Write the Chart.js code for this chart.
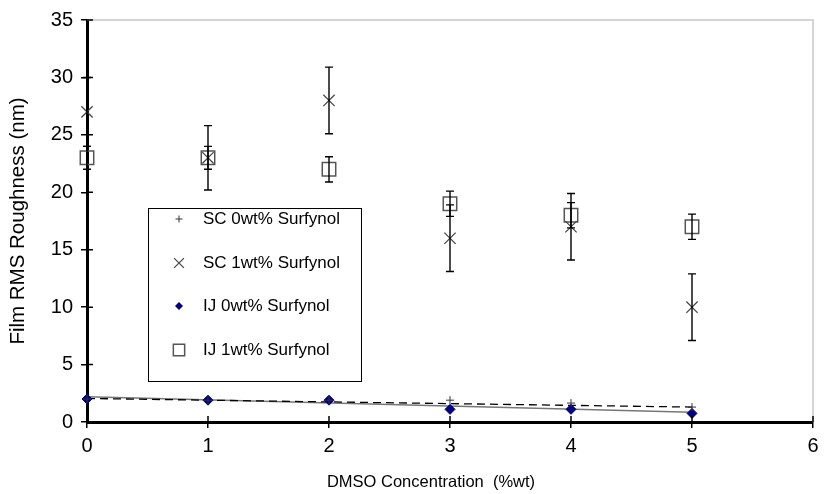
<!DOCTYPE html>
<html>
<head>
<meta charset="utf-8">
<script src="https://cdn.jsdelivr.net/npm/chart.js@4.4.0/dist/chart.umd.min.js"></script>
<style>
html,body{margin:0;padding:0;background:#fff;}
#wrap{width:824px;height:494px;position:relative;}
</style>
</head>
<body>
<div id="wrap"><canvas id="c" width="824" height="494"></canvas></div>
<script>
// ---- data ----
const dmso = [0, 1, 2, 3, 4, 5];
const sc0 = [2.0, 1.9, 1.9, 1.9, 1.65, 1.3];
const sc1 = [27, 23, 28, 16, 17, 10];
const sc1Err = [3.0, 2.8, 2.9, 2.9, 2.9, 2.9];
const ij0 = [2.0, 1.9, 1.9, 1.1, 1.1, 0.75];
const ij1 = [23, 23, 22, 19, 18, 17];
const ij1Err = [1.0, 1.0, 1.1, 1.1, 1.1, 1.1];
// trend lines (end points)
const sc0TrendX = [0, 5];
const sc0TrendY = [2.05, 1.3];
const ij0TrendX = [0, 5];
const ij0TrendY = [2.2, 0.85];
const xTicks = [0, 1, 2, 3, 4, 5, 6];
const yTicks = [0, 5, 10, 15, 20, 25, 30, 35];
const seriesNames = ['SC 0wt% Surfynol', 'SC 1wt% Surfynol', 'IJ 0wt% Surfynol', 'IJ 1wt% Surfynol'];
const xTitle = 'DMSO Concentration  (%wt)';
const yTitle = 'Film RMS Roughness (nm)';

const pts = (xs, ys) => xs.map((x, i) => ({x: x, y: ys[i]}));
const FONT = 'Liberation Sans, Arial, sans-serif';

const errorBars = {
  id: 'errorBars',
  afterDatasetsDraw(chart) {
    const ctx = chart.ctx, xs = chart.scales.x, ys = chart.scales.y;
    ctx.save();
    ctx.strokeStyle = '#000';
    ctx.lineWidth = 1.4;
    chart.data.datasets.forEach(ds => {
      if (!ds.err) return;
      ds.data.forEach((p, i) => {
        const e = ds.err[i];
        const px = xs.getPixelForValue(p.x);
        const top = ys.getPixelForValue(p.y + e);
        const bot = ys.getPixelForValue(p.y - e);
        ctx.beginPath();
        ctx.moveTo(px, top); ctx.lineTo(px, bot);
        ctx.moveTo(px - 4, top); ctx.lineTo(px + 4, top);
        ctx.moveTo(px - 4, bot); ctx.lineTo(px + 4, bot);
        ctx.stroke();
      });
    });
    ctx.restore();
  }
};

const frame = {
  id: 'frame',
  beforeDatasetsDraw(chart) {
    const ctx = chart.ctx, a = chart.chartArea;
    ctx.save();
    ctx.strokeStyle = '#c8c8c8';
    ctx.lineWidth = 1.5;
    ctx.beginPath();
    ctx.moveTo(a.left, a.top); ctx.lineTo(a.right, a.top); ctx.lineTo(a.right, a.bottom);
    ctx.stroke();
    ctx.restore();
  },
  afterDatasetsDraw(chart) {
    const ctx = chart.ctx, a = chart.chartArea, xs = chart.scales.x, ys = chart.scales.y;
    ctx.save();
    ctx.strokeStyle = '#000';
    ctx.lineWidth = 1.5;
    ctx.beginPath();
    yTicks.forEach(v => { const py = ys.getPixelForValue(v); ctx.moveTo(a.left, py); ctx.lineTo(a.left + 6, py); });
    xTicks.forEach(v => { const px = xs.getPixelForValue(v); ctx.moveTo(px, a.bottom); ctx.lineTo(px, a.bottom - 6); });
    ctx.stroke();
    // x title
    ctx.fillStyle = '#000';
    ctx.font = '16.5px ' + FONT;
    ctx.textAlign = 'center';
    ctx.textBaseline = 'middle';
    ctx.fillText(xTitle, 431, 482);
    ctx.restore();
  }
};

function drawMarker(ctx, style, r, x, y) {
  if (style === 'cross') { ctx.moveTo(x - r, y); ctx.lineTo(x + r, y); ctx.moveTo(x, y - r); ctx.lineTo(x, y + r); }
  else if (style === 'crossRot') { const d = r * Math.SQRT1_2; ctx.moveTo(x - d, y - d); ctx.lineTo(x + d, y + d); ctx.moveTo(x - d, y + d); ctx.lineTo(x + d, y - d); }
  else if (style === 'rectRot') { ctx.moveTo(x, y - r); ctx.lineTo(x + r, y); ctx.lineTo(x, y + r); ctx.lineTo(x - r, y); ctx.closePath(); }
  else if (style === 'rect') { const s = r * Math.SQRT1_2; ctx.rect(x - s, y - s, 2 * s, 2 * s); }
}

const boxLegend = {
  id: 'boxLegend',
  afterDraw(chart) {
    const ctx = chart.ctx;
    ctx.save();
    ctx.fillStyle = '#fff';
    ctx.fillRect(148, 208, 213, 173);
    ctx.strokeStyle = '#000';
    ctx.lineWidth = 1;
    ctx.strokeRect(148.5, 208.5, 213, 173);
    const rows = [219, 263, 306, 350];
    ctx.font = '17px ' + FONT;
    ctx.textBaseline = 'middle';
    ctx.textAlign = 'left';
    for (let i = 0; i < 4; i++) {
      const ds = chart.data.datasets[i];
      ctx.save();
      ctx.fillStyle = ds.pointBackgroundColor;
      ctx.strokeStyle = ds.pointBorderColor;
      ctx.lineWidth = ds.pointBorderWidth;
      ctx.beginPath();
      drawMarker(ctx, ds.pointStyle, ds.legendRadius, 179, rows[i]);
      if (ds.pointStyle === 'rectRot') ctx.fill();
      else if (ds.pointStyle === 'rect') { ctx.fillStyle = '#fff'; ctx.fill(); ctx.stroke(); }
      else ctx.stroke();
      ctx.restore();
      ctx.fillStyle = '#000';
      ctx.fillText(seriesNames[i], 203, rows[i]);
    }
    ctx.restore();
  }
};

new Chart(document.getElementById('c'), {
  type: 'scatter',
  data: {
    datasets: [
      { label: seriesNames[0], data: pts(dmso, sc0), pointStyle: 'cross', pointRadius: 4, legendRadius: 3.5,
        pointBorderColor: '#333', pointBackgroundColor: '#333', pointBorderWidth: 1, showLine: false, clip: false },
      { label: seriesNames[1], data: pts(dmso, sc1), err: sc1Err, pointStyle: 'crossRot', pointRadius: 8, legendRadius: 7,
        pointBorderColor: '#444', pointBackgroundColor: '#444', pointBorderWidth: 1.2, showLine: false, clip: false },
      { label: seriesNames[2], data: pts(dmso, ij0), pointStyle: 'rectRot', pointRadius: 5, legendRadius: 4,
        pointBorderColor: '#000080', pointBackgroundColor: '#000080', pointBorderWidth: 1, showLine: false, clip: false },
      { label: seriesNames[3], data: pts(dmso, ij1), err: ij1Err, pointStyle: 'rect', pointRadius: 9.5, legendRadius: 8,
        pointBorderColor: '#555', pointBackgroundColor: 'rgba(255,255,255,0)', pointBorderWidth: 1.5, showLine: false, clip: false },
      { label: 'sc0trend', data: pts(sc0TrendX, sc0TrendY), showLine: true, pointRadius: 0,
        borderColor: '#000', borderWidth: 1.3, borderDash: [8, 5], order: 10, clip: false },
      { label: 'ij0trend', data: pts(ij0TrendX, ij0TrendY), showLine: true, pointRadius: 0,
        borderColor: '#777', borderWidth: 1.5, order: 11, clip: false }
    ]
  },
  options: {
    responsive: false,
    animation: false,
    events: [],
    layout: { padding: { top: 20, right: 3, left: 0, bottom: 0 } },
    plugins: { legend: { display: false }, tooltip: { enabled: false } },
    scales: {
      x: {
        type: 'linear', min: 0, max: 6,
        afterBuildTicks: s => { s.ticks = xTicks.map(v => ({value: v})); },
        afterFit: s => { s.height = 72; s.paddingRight = 0; s.paddingLeft = 0; },
        grid: { display: true, drawOnChartArea: false, drawTicks: true, tickLength: 6, color: '#000', lineWidth: 1.5 },
        border: { display: true, color: '#000', width: 3 },
        ticks: { color: '#000', font: { size: 20, family: FONT }, padding: 6, maxRotation: 0 }
      },
      y: {
        type: 'linear', min: 0, max: 35,
        afterBuildTicks: s => { s.ticks = yTicks.map(v => ({value: v})); },
        afterFit: s => { s.width = 87; s.paddingTop = 0; s.paddingBottom = 0; },
        grid: { display: true, drawOnChartArea: false, drawTicks: true, tickLength: 6, color: '#000', lineWidth: 1.5 },
        border: { display: true, color: '#000', width: 3 },
        ticks: { color: '#000', font: { size: 20, family: FONT }, padding: 8 },
        title: { display: true, text: yTitle, color: '#000', font: { size: 20.5, family: FONT }, padding: { top: 6, bottom: 0 } }
      }
    }
  },
  plugins: [frame, errorBars, boxLegend]
});
</script>
</body>
</html>
